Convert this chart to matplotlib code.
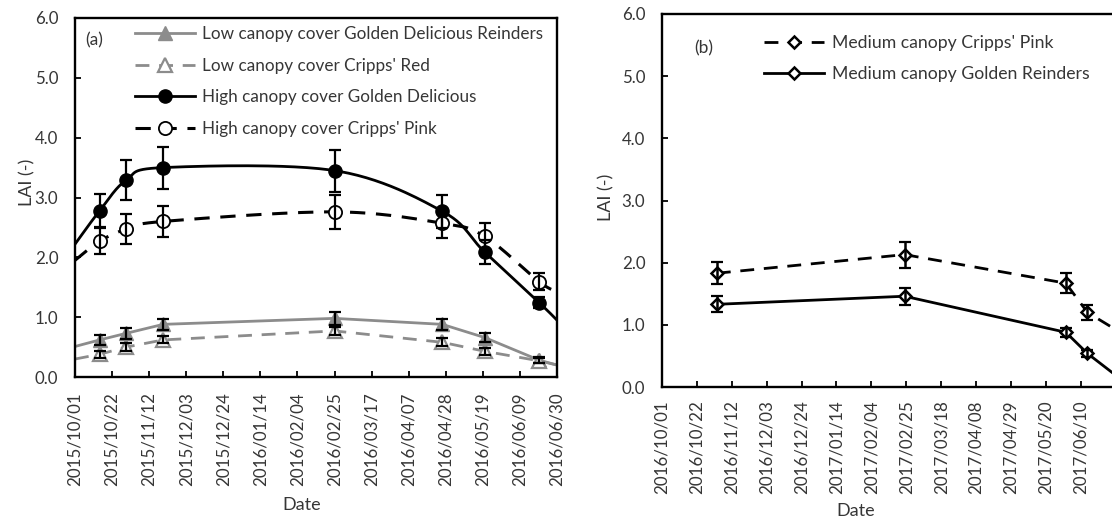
import numpy as np
import pandas as pd
import matplotlib
matplotlib.use('Agg')
import matplotlib.pyplot as plt
import matplotlib.dates as mdates
from matplotlib.lines import Line2D

plt.rcParams['font.family'] = ['Lato', 'DejaVu Sans']

# ---------------- data ----------------
# (a) 2015/16 season
dates_a = pd.to_datetime(['2015-10-15', '2015-10-30', '2015-11-20', '2016-02-25',
                          '2016-04-26', '2016-05-20', '2016-06-20'])
lim_a = pd.to_datetime(['2015-10-01', '2016-06-30'])

low_gd = [0.62, 0.73, 0.88, 0.98, 0.88, 0.66, 0.28]
low_gd_err = [0.08, 0.09, 0.09, 0.11, 0.09, 0.08, 0.05]
low_gd_edge = [0.51, 0.20]          # line value where it meets the axis bounds

low_cr = [0.38, 0.50, 0.62, 0.77, 0.58, 0.43, 0.27]
low_cr_err = [0.06, 0.06, 0.06, 0.07, 0.07, 0.06, 0.04]
low_cr_edge = [0.30, 0.20]

high_gd = [2.78, 3.29, 3.50, 3.45, 2.77, 2.09, 1.24]
high_gd_err = [0.28, 0.33, 0.35, 0.35, 0.28, 0.20, 0.09]
high_gd_edge = [2.22, 0.95]

high_cp = [2.27, 2.47, 2.60, 2.76, 2.57, 2.35, 1.59]
high_cp_err = [0.22, 0.25, 0.26, 0.28, 0.25, 0.22, 0.14]
high_cp_edge = [1.95, 1.43]

# (b) 2016/17 season
dates_b = pd.to_datetime(['2016-11-03', '2017-02-24', '2017-06-01', '2017-06-14'])
lim_b = pd.to_datetime(['2016-10-01', '2017-06-30'])

med_cp = [1.83, 2.13, 1.67, 1.20]
med_cp_err = [0.18, 0.21, 0.16, 0.12]
med_cp_edge = 0.94

med_gr = [1.33, 1.46, 0.88, 0.54]
med_gr_err = [0.13, 0.14, 0.07, 0.05]
med_gr_edge = 0.21

labels_a = ['Low canopy cover Golden Delicious Reinders', "Low canopy cover Cripps' Red",
            'High canopy cover Golden Delicious', "High canopy cover Cripps' Pink"]
labels_b = ["Medium canopy Cripps' Pink", 'Medium canopy Golden Reinders']

GRAY = '#8c8c8c'
TXT = '#363636'
W, H = 1112, 521


def smooth_line(ax, x, y, **kw):
    # excel style smoothed line (bezier through the points, done in screen space)
    pts = ax.transData.transform(np.column_stack([mdates.date2num(x), y]))
    p = np.vstack([pts[0], pts, pts[-1]])
    t = np.linspace(0, 1, 30)[:, None]
    segs = []
    for i in range(1, len(p) - 2):
        p0, p1, p2, p3 = p[i - 1], p[i], p[i + 1], p[i + 2]
        c1 = p1 + (p2 - p0) / 6
        c2 = p2 - (p3 - p1) / 6
        segs.append((1 - t)**3 * p1 + 3 * (1 - t)**2 * t * c1 + 3 * (1 - t) * t**2 * c2 + t**3 * p2)
    xy = ax.transData.inverted().transform(np.vstack(segs))
    ax.plot(mdates.num2date(xy[:, 0]), xy[:, 1], **kw)


def style_axes(ax, lim, pad_x):
    ax.set_xlim(lim[0], lim[1])
    ax.set_ylim(0, 6)
    ax.set_yticks(np.arange(0, 6.1, 1.0))
    ax.yaxis.set_major_formatter(plt.FormatStrFormatter('%.1f'))
    ax.xaxis.set_major_formatter(mdates.DateFormatter('%Y/%m/%d'))
    for s in ax.spines.values():
        s.set_linewidth(1.7)
    ax.tick_params(direction='in', length=4, width=1.3, colors='k', labelcolor=TXT, labelsize=12.2)
    ax.tick_params(axis='y', pad=12)
    ax.tick_params(axis='x', pad=pad_x, labelrotation=90)


fig = plt.figure(figsize=(W / 100, H / 100), dpi=100)
ax1 = fig.add_axes([75 / W, 1 - 377 / H, (557 - 75) / W, (377 - 18) / H])
ax2 = fig.add_axes([662 / W, 1 - 387 / H, (1114 - 662) / W, (387 - 14) / H])

# ---------------- panel (a) ----------------
style_axes(ax1, lim_a, 11)
ax1.set_xticks(pd.date_range(lim_a[0], lim_a[1], freq='21D'))

# (values, errors, edge values, smoothed?, line style, marker style)
series_a = [
    (low_gd, low_gd_err, low_gd_edge, False, dict(color=GRAY, lw=2.0, ls='-'),
     dict(marker='^', ms=10, mfc=GRAY, mec=GRAY)),
    (low_cr, low_cr_err, low_cr_edge, False, dict(color=GRAY, lw=2.0, ls=(0, (5, 3.5))),
     dict(marker='^', ms=10, mfc='white', mec=GRAY, mew=1.6)),
    (high_gd, high_gd_err, high_gd_edge, True, dict(color='k', lw=2.0, ls='-'),
     dict(marker='o', ms=9.5, mfc='k', mec='k')),
    (high_cp, high_cp_err, high_cp_edge, True, dict(color='k', lw=2.2, ls=(0, (5, 3.5))),
     dict(marker='o', ms=9.5, mfc='white', mec='k', mew=1.3)),
]
handles_a = []
for vals, err, edge, smooth, lkw, mkw in series_a:
    xs = [lim_a[0]] + list(dates_a) + [lim_a[1]]
    ys = [edge[0]] + list(vals) + [edge[1]]
    if smooth:
        smooth_line(ax1, xs, ys, zorder=2, **lkw)
    else:
        ax1.plot(xs, ys, zorder=2, **lkw)
    ax1.plot(dates_a, vals, ls='none', zorder=3, **mkw)
    ax1.errorbar(dates_a, vals, yerr=err, fmt='none', ecolor='k', elinewidth=1.6,
                 capsize=4.5, capthick=1.6, zorder=4)
    handles_a.append(Line2D([], [], **lkw, **mkw))

leg = ax1.legend(handles_a, labels_a, loc='upper left', bbox_to_anchor=(0.124, 0.978),
                 frameon=False, fontsize=12.3, handlelength=3.5, handletextpad=0.45,
                 labelspacing=0.92, borderpad=0, borderaxespad=0)
for t in leg.get_texts():
    t.set_color(TXT)
ax1.text(0.021, 0.939, '(a)', transform=ax1.transAxes, fontsize=12.5, color=TXT, va='center')
ax1.set_ylabel('LAI (-)', fontsize=13, color=TXT)
ax1.yaxis.set_label_coords(-0.083, 0.543)
ax1.set_xlabel('Date', fontsize=13, color=TXT)
ax1.xaxis.set_label_coords(0.471, -0.335)

# ---------------- panel (b) ----------------
style_axes(ax2, lim_b, 9.5)
ax2.set_xticks(pd.date_range(lim_b[0], lim_b[1], freq='21D'))

series_b = [
    (med_cp, med_cp_err, med_cp_edge, dict(color='k', lw=2.0, ls=(0, (5, 3.5))),
     dict(marker='D', ms=6.5, mfc='white', mec='k', mew=1.8)),
    (med_gr, med_gr_err, med_gr_edge, dict(color='k', lw=2.0, ls='-'),
     dict(marker='D', ms=6.5, mfc='white', mec='k', mew=1.8)),
]
handles_b = []
for vals, err, edge, lkw, mkw in series_b:
    ax2.plot(list(dates_b) + [lim_b[1]], list(vals) + [edge], zorder=2, **lkw)
    ax2.plot(dates_b, vals, ls='none', zorder=3, **mkw)
    ax2.errorbar(dates_b, vals, yerr=err, fmt='none', ecolor='k', elinewidth=1.8,
                 capsize=4.5, capthick=1.6, zorder=4)
    handles_b.append(Line2D([], [], **lkw, **mkw))

leg = ax2.legend(handles_b, labels_b, loc='upper left', bbox_to_anchor=(0.226, 0.944),
                 frameon=False, fontsize=12.7, handlelength=3.4, handletextpad=0.45,
                 labelspacing=0.85, borderpad=0, borderaxespad=0)
for t in leg.get_texts():
    t.set_color(TXT)
ax2.text(0.071, 0.909, '(b)', transform=ax2.transAxes, fontsize=12.5, color=TXT, va='center')
ax2.set_ylabel('LAI (-)', fontsize=13, color=TXT)
ax2.yaxis.set_label_coords(-0.106, 0.509)
ax2.set_xlabel('Date', fontsize=13, color=TXT)
ax2.xaxis.set_label_coords(0.429, -0.31)

fig.savefig('out.png', dpi=100)
